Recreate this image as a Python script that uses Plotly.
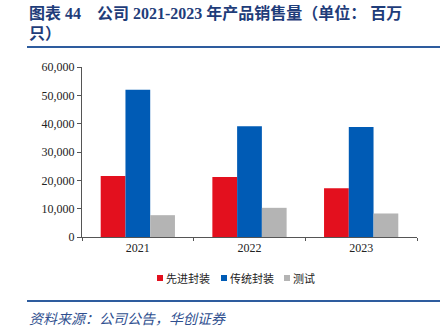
import plotly.graph_objects as go

years = ["2021", "2022", "2023"]
advanced = [21500, 21200, 17200]
traditional = [52000, 39100, 38800]
testing = [7700, 10300, 8300]
series_names = ["先进封装", "传统封装", "测试"]
colors = ["#E3101E", "#005BB5", "#B4B4B4"]
y_ticks = [0, 10000, 20000, 30000, 40000, 50000, 60000]

W, H = 447, 335
ML, MR, MT, MB = 82, 30, 67, 98
PW, PH = W - ML - MR, H - MT - MB

def px(x):
    return (x - ML) / PW

def py(y):
    return (H - MB - y) / PH

fig = go.Figure()
for name, vals, c in zip(series_names, [advanced, traditional, testing], colors):
    fig.add_trace(go.Bar(x=years, y=vals, name=name, marker_color=c,
                         marker_line_width=0, showlegend=False))

serif_cjk = "Liberation Serif, Noto Sans CJK SC"
title_color = "#1F3D7A"
line_color = "#2E5C9E"

fig.update_layout(
    width=W, height=H,
    margin=dict(l=ML, r=MR, t=MT, b=MB),
    paper_bgcolor="white", plot_bgcolor="white",
    barmode="group", bargap=0.335, bargroupgap=0,
    xaxis=dict(showline=True, linecolor="#555", linewidth=1, ticks="outside",
               tickson="boundaries", ticklen=3, tickcolor="#555",
               tickfont=dict(family="Liberation Serif", size=12, color="#222")),
    yaxis=dict(range=[0, 60000], tickvals=y_ticks, tickformat=",", showline=True,
               linecolor="#555", linewidth=1, ticks="outside", ticklen=4, tickcolor="#555",
               showgrid=False, zeroline=False,
               tickfont=dict(family="Liberation Serif", size=12, color="#222")),
    font=dict(family="Noto Sans CJK SC"),
)

annotations = [
    dict(text="<b>图表 44&nbsp;&nbsp;&nbsp;&nbsp;公司 2021-2023 年产品销售量（单位：&nbsp;百万</b>",
         x=px(27), y=py(13), xanchor="left", yanchor="middle",
         font=dict(family=serif_cjk, size=16, color=title_color)),
    dict(text="<b>只）</b>", x=px(27), y=py(33), xanchor="left", yanchor="middle",
         font=dict(family=serif_cjk, size=16, color=title_color)),
    dict(text="<i>资料来源：公司公告，华创证券</i>", x=px(27), y=py(318), xanchor="left", yanchor="middle",
         font=dict(family="Noto Sans CJK SC", size=14, color="#2F4F8F")),
]

# custom compact legend
legend_x = [157, 221, 284]
legend_y = 278
for name, c, lx in zip(series_names, colors, legend_x):
    fig.add_shape(type="rect", xref="paper", yref="paper",
                  x0=px(lx), x1=px(lx + 6), y0=py(legend_y + 3), y1=py(legend_y - 3),
                  fillcolor=c, line_width=0)
    annotations.append(dict(text=name, x=px(lx + 7), y=py(legend_y), xanchor="left", yanchor="middle",
                            font=dict(family="Noto Sans CJK SC", size=11, color="#222")))

for a in annotations:
    a.update(xref="paper", yref="paper", showarrow=False)
fig.update_layout(annotations=annotations)

fig.add_shape(type="line", xref="paper", yref="paper", x0=px(27), x1=px(440), y0=py(47), y1=py(47),
              line=dict(color=line_color, width=2))
fig.add_shape(type="line", xref="paper", yref="paper", x0=px(27), x1=px(440), y0=py(301), y1=py(301),
              line=dict(color=line_color, width=2))

fig.write_html("out.html")
